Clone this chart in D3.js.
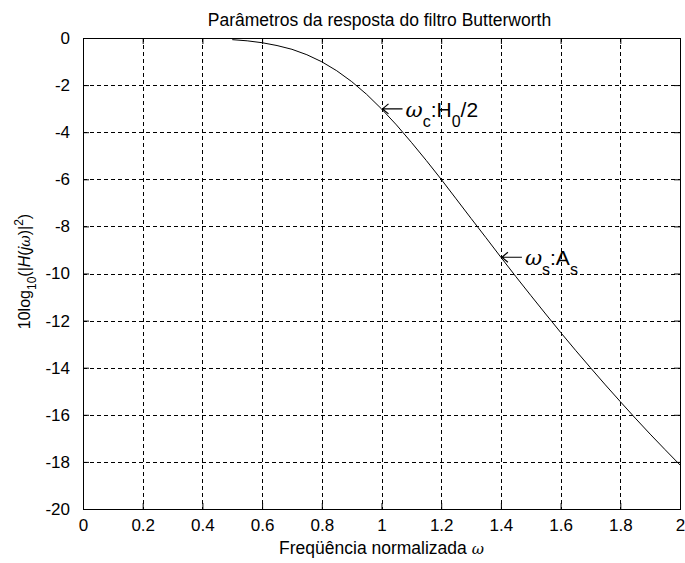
<!DOCTYPE html>
<html>
<head>
<meta charset="utf-8">
<script src="https://cdn.jsdelivr.net/npm/d3@7"></script>
<style>
  body { margin: 0; background: #fff; }
  svg text { font-family: "Liberation Sans", Arial, sans-serif; fill: #000; }
</style>
</head>
<body>
<svg id="chart" width="685" height="563"></svg>
<script>
// normalised frequency and response in dB
const omega = [0.5, 0.55, 0.6, 0.65, 0.7, 0.75, 0.8, 0.85, 0.9, 0.95, 1.0,
  1.05, 1.1, 1.15, 1.2, 1.25, 1.3, 1.35, 1.4, 1.45, 1.5,
  1.55, 1.6, 1.65, 1.7, 1.75, 1.8, 1.85, 1.9, 1.95, 2.0];
const gainDb = [-0.07, -0.12, -0.2, -0.32, -0.48, -0.71, -1.01, -1.39, -1.85, -2.39, -3.01,
  -3.69, -4.43, -5.2, -6.0, -6.83, -7.66, -8.48, -9.31, -10.13, -10.93,
  -11.72, -12.5, -13.26, -14.0, -14.73, -15.44, -16.14, -16.82, -17.48, -18.13];
const xTicks = [0, 0.2, 0.4, 0.6, 0.8, 1, 1.2, 1.4, 1.6, 1.8, 2];
const yTicks = [0, -2, -4, -6, -8, -10, -12, -14, -16, -18, -20];
// annotated points: [omega, dB]
const cutoff = [1.0, -3.01];
const stopband = [1.4, -9.31];

const margin = { top: 38, right: 5, bottom: 54, left: 83 };
const W = 685, H = 563;
const w = W - margin.left - margin.right;
const h = H - margin.top - margin.bottom;

const svg = d3.select('#chart');
const g = svg.append('g').attr('transform', `translate(${margin.left},${margin.top})`);

const x = d3.scaleLinear().domain([0, 2]).range([0, w]);
const y = d3.scaleLinear().domain([-20, 0]).range([h, 0]);

// grid
g.append('g')
  .selectAll('line')
  .data(xTicks.slice(1, -1))
  .join('line')
  .attr('x1', (d) => Math.round(x(d)) + 0.5)
  .attr('x2', (d) => Math.round(x(d)) + 0.5)
  .attr('y1', 0)
  .attr('y2', h)
  .attr('stroke', '#000')
  .attr('stroke-dasharray', '4,3');
g.append('g')
  .selectAll('line')
  .data(yTicks.slice(1, -1))
  .join('line')
  .attr('y1', (d) => Math.round(y(d)) + 0.5)
  .attr('y2', (d) => Math.round(y(d)) + 0.5)
  .attr('x1', 0)
  .attr('x2', w)
  .attr('stroke', '#000')
  .attr('stroke-dasharray', '4,3');

// axes, ticks pointing inward like matlab; plain hyphen for minus
const fmt = (d) => String(d);
const axStyle = (sel) => {
  sel.select('.domain').remove();
  sel.selectAll('text').style('font-size', '17px');
};
g.append('g')
  .attr('transform', `translate(0,${h})`)
  .call(d3.axisBottom(x).tickValues(xTicks).tickFormat(fmt).tickSizeInner(-6).tickPadding(10))
  .call(axStyle);
g.append('g')
  .call(d3.axisTop(x).tickValues(xTicks).tickFormat('').tickSizeInner(-6))
  .call(axStyle);
g.append('g')
  .call(d3.axisLeft(y).tickValues(yTicks).tickFormat(fmt).tickSizeInner(-6).tickPadding(13))
  .call(axStyle);
g.append('g')
  .attr('transform', `translate(${w},0)`)
  .call(d3.axisRight(y).tickValues(yTicks).tickFormat('').tickSizeInner(-6))
  .call(axStyle);

g.append('rect')
  .attr('x', 0.5)
  .attr('y', 0.5)
  .attr('width', w)
  .attr('height', h)
  .attr('fill', 'none')
  .attr('stroke', '#000');

// response curve
const line = d3.line().x((d, i) => x(omega[i])).y((d) => y(d));
g.append('path')
  .datum(gainDb)
  .attr('d', line)
  .attr('fill', 'none')
  .attr('stroke', '#000')
  .attr('stroke-width', 1);

// annotations: arrow + label
function annotate(pt, parts) {
  const px = x(pt[0]), py = y(pt[1]);
  const a = g.append('g');
  a.append('path')
    .attr('d', `M${px + 21},${py} L${px + 1},${py} M${px + 7},${py - 5} L${px + 1},${py} L${px + 7},${py + 5}`)
    .attr('fill', 'none')
    .attr('stroke', '#000')
    .attr('stroke-width', 1.2);
  const t = a.append('text')
    .attr('x', px + 24)
    .attr('y', py + 8)
    .style('font-size', '21px');
  parts.forEach((p) => {
    const s = t.append('tspan').text(p.t);
    if (p.sub) s.attr('dy', 10).style('font-size', '16px');
    if (p.back) s.attr('dy', -10);
    if (p.it) s.style('font-style', 'italic').style('font-family', 'DejaVu Serif');
  });
}
annotate(cutoff, [
  { t: 'ω', it: true },
  { t: 'c', sub: true },
  { t: ':', back: true },
  { t: 'H' },
  { t: '0', sub: true },
  { t: '/2', back: true },
]);
annotate(stopband, [
  { t: 'ω', it: true },
  { t: 's', sub: true },
  { t: ':', back: true },
  { t: 'A' },
  { t: 's', sub: true },
]);

// labels
svg.append('text')
  .attr('x', margin.left + w / 2 - 2)
  .attr('y', 26)
  .attr('text-anchor', 'middle')
  .style('font-size', '17.5px')
  .text('Parâmetros da resposta do filtro Butterworth');

const xl = svg.append('text')
  .attr('x', margin.left + w / 2)
  .attr('y', 554)
  .attr('text-anchor', 'middle')
  .style('font-size', '17.5px');
xl.append('tspan').text('Freqüência normalizada ');
xl.append('tspan').text('ω').style('font-style', 'italic').style('font-family', 'DejaVu Serif').style('font-size', '15px');

const yl = svg.append('text')
  .attr('transform', `translate(30,${margin.top + h / 2 - 2}) rotate(-90)`)
  .attr('text-anchor', 'middle')
  .style('font-size', '16px');
yl.append('tspan').text('10log');
yl.append('tspan').text('10').attr('dy', 6).style('font-size', '12px');
yl.append('tspan').text('(|').attr('dy', -6);
yl.append('tspan').text('H').style('font-style', 'italic');
yl.append('tspan').text('(');
yl.append('tspan').text('j').style('font-style', 'italic');
yl.append('tspan').text('ω').style('font-style', 'italic').style('font-family', 'DejaVu Serif').style('font-size', '14px');
yl.append('tspan').text(')|');
yl.append('tspan').text('2').attr('dy', -7).style('font-size', '12px');
yl.append('tspan').text(')').attr('dy', 7);
</script>
</body>
</html>
